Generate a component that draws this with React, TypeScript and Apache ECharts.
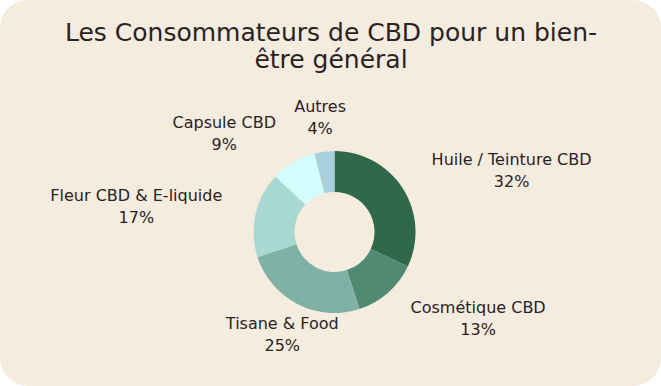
import React, { useEffect, useRef } from "react";
import * as echarts from "echarts";

const titleText = "Les Consommateurs de CBD pour un bien-\nêtre général";
const categories = [
  "Huile / Teinture CBD",
  "Cosmétique CBD",
  "Tisane & Food",
  "Fleur CBD & E-liquide",
  "Capsule CBD",
  "Autres",
];
const values = [32, 13, 25, 17, 9, 4];
const colors = ["#2f684a", "#518a73", "#7fb1a4", "#a8d8d1", "#d3fdfc", "#a9d0dc"];

const FONT = "DejaVu Sans";
const TEXT_COLOR = "#2b2222";

function midDx(i: number): number {
  const total = values.reduce((a, b) => a + b, 0);
  let before = 0;
  for (let k = 0; k < i; k++) before += values[k];
  const mid = (before + values[i] / 2) / total;
  return Math.sin(mid * Math.PI * 2);
}

export default function App() {
  const ref = useRef<HTMLDivElement>(null);
  useEffect(() => {
    document.body.style.margin = "0";
    if (!ref.current) return;
    const chart = echarts.init(ref.current, undefined, { renderer: "svg" });
    chart.setOption({
      animation: false,
      backgroundColor: "transparent",
      title: {
        text: titleText,
        left: 326,
        top: 14,
        textAlign: "center",
        textStyle: {
          fontFamily: FONT,
          fontSize: 25,
          fontWeight: "normal",
          color: TEXT_COLOR,
          lineHeight: 27,
        },
      },
      series: [
        {
          type: "pie",
          center: [334.5, 232],
          radius: [40, 81],
          startAngle: 90,
          clockwise: true,
          avoidLabelOverlap: false,
          data: categories.map((name, i) => ({
            name,
            value: values[i],
            itemStyle: { color: colors[i] },
          })),
          label: {
            show: true,
            position: "outside",
            distanceToLabelLine: 0,
            formatter: "{n|{b}}\n{p|{c}%}",
            rich: {
              n: { fontFamily: FONT, fontSize: 16, color: TEXT_COLOR, align: "center", lineHeight: 22 },
              p: { fontFamily: FONT, fontSize: 16, color: TEXT_COLOR, align: "center", lineHeight: 22 },
            },
          },
          labelLine: { show: false, length: 34, length2: 0 },
          labelLayout: (p: any) =>
            Math.abs(midDx(p.dataIndex)) < 0.5 ? { align: "center" } : {},
          emphasis: { disabled: true },
        },
      ],
    });
    return () => chart.dispose();
  }, []);
  return (
    <div
      style={{
        width: 661,
        height: 386,
        background: "#f5ece0",
        borderRadius: 28,
        overflow: "hidden",
      }}
    >
      <div ref={ref} style={{ width: 661, height: 386 }} />
    </div>
  );
}
